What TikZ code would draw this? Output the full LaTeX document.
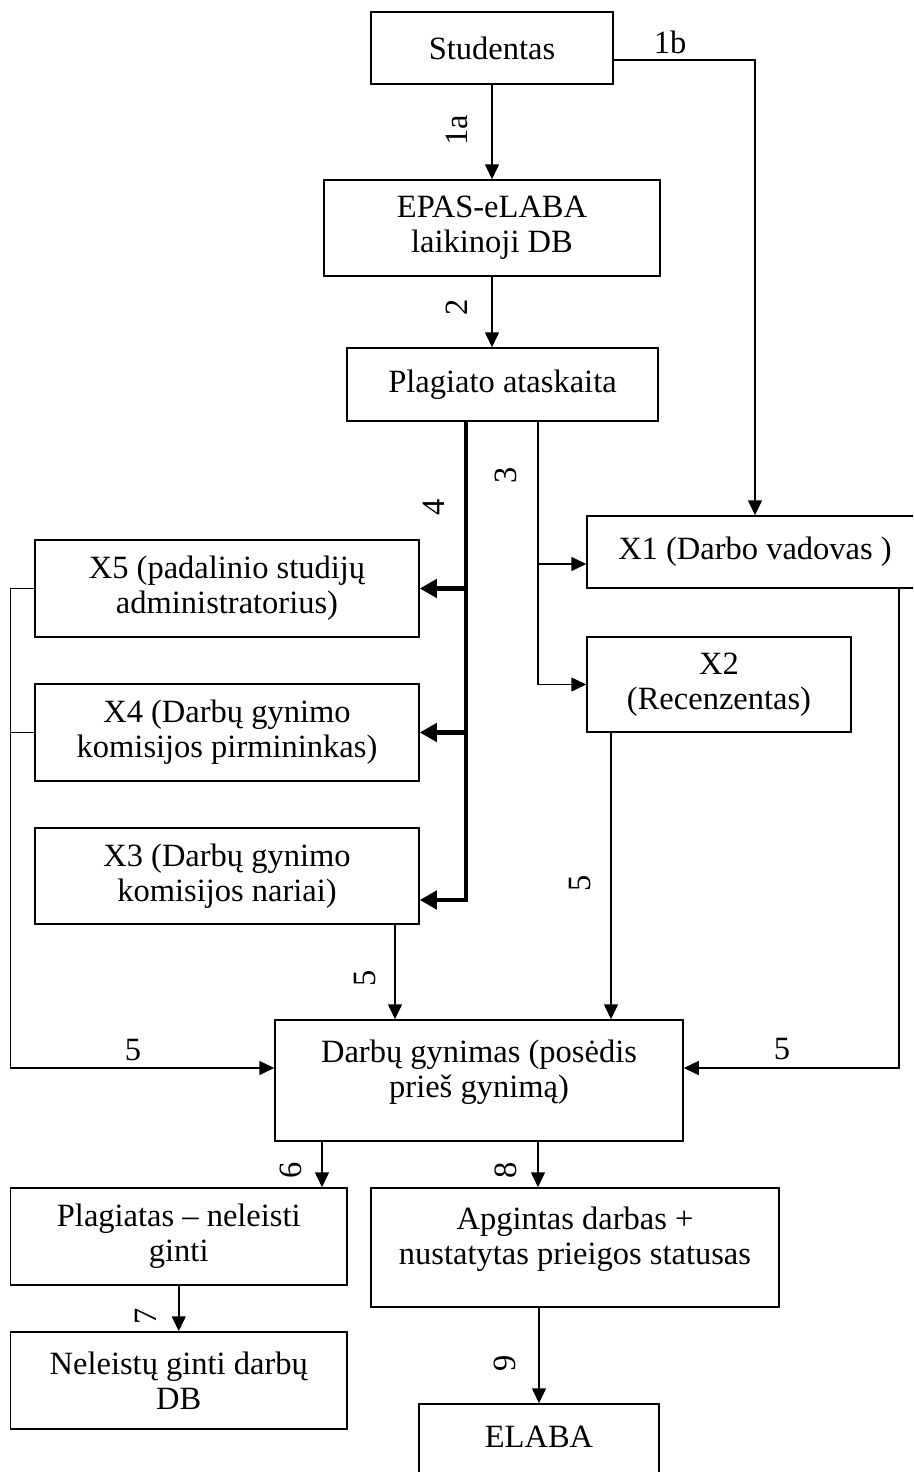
\documentclass[tikz,border=0pt]{standalone}
\usepackage{fontspec}
\setmainfont{Liberation Serif}
\usetikzlibrary{arrows.meta}
\begin{document}
\begin{tikzpicture}[x=1pt,y=-1pt,
  box/.style={draw, line width=1.5pt, align=center, inner sep=0pt, font=\fontsize{32.5}{35}\selectfont},
  txt/.style={align=center, inner sep=0pt, font=\fontsize{32.5}{35}\selectfont},
  num/.style={inner sep=0pt, font=\fontsize{32.5}{35}\selectfont},
  rnum/.style={num, rotate=90},
  ln/.style={line width=1.5pt},
  arr/.style={line width=1.5pt, -{Triangle[length=15pt,width=14pt]}},
  tarr/.style={line width=4.5pt, -{Triangle[length=17pt,width=18pt]}}
]
\clip (0,0) rectangle (913,1472);
\fill[white] (0,0) rectangle (913,1472);

% boxes
\node[box, minimum width=242pt, minimum height=72pt] (stu) at (492,48) {Studentas};
\node[box, minimum width=336pt, minimum height=96pt] (epas) at (492,228) {EPAS-eLABA\\laikinoji DB};
\node[box, minimum width=311pt, minimum height=73pt] (plag) at (502.5,384.5) {Plagiato ataskaita};
\node[box, minimum width=336pt, minimum height=72pt] (x1) at (755,552) {X1 (Darbo vadovas )};
\node[box, minimum width=264pt, minimum height=95pt] (x2) at (719,684.5) {X2\\(Recenzentas)};
\node[box, minimum width=384pt, minimum height=97pt] (x5) at (227,588.5) {X5 (padalinio studijų\\administratorius)};
\node[box, minimum width=384pt, minimum height=97pt] (x4) at (227,732.5) {X4 (Darbų gynimo\\komisijos pirmininkas)};
\node[box, minimum width=384pt, minimum height=96pt] (x3) at (227,876) {X3 (Darbų gynimo\\komisijos nariai)};
\node[box, minimum width=408pt, minimum height=121pt] (dg) at (479,1080.5) {};
\node[txt] (dgt) at (479,1072) {Darbų gynimas (posėdis\\prieš gynimą)};
\node[box, minimum width=336.5pt, minimum height=97pt] (pn) at (178.75,1236.5) {Plagiatas – neleisti\\ginti};
\node[box, minimum width=408pt, minimum height=119pt] (ap) at (575,1247.5) {};
\node[txt] (apt) at (575,1239) {Apgintas darbas +\\nustatytas prieigos statusas};
\node[box, minimum width=336.5pt, minimum height=97pt] (nd) at (178.75,1380.5) {Neleistų ginti darbų\\DB};
\node[box, minimum width=240pt, minimum height=96pt] (el) at (539,1452) {};
\node[txt] (elt) at (539,1437) {ELABA};

% helper coordinates
\coordinate (p3) at ([xshift=35.5pt]plag.south);
\coordinate (p4) at ([xshift=-36.5pt]plag.south);
\coordinate (x1in) at ([yshift=-12pt]x1.west);
\coordinate (x3in) at ([yshift=-24pt]x3.east);
\coordinate (lx) at (10.5,0);
\coordinate (rx) at (899,0);
\coordinate (dgl) at ([yshift=12.5pt]dg.west);
\coordinate (dgr) at ([yshift=12.5pt]dg.east);
\coordinate (x2o) at ([xshift=-108pt]x2.south);
\coordinate (x3o) at ([xshift=168pt]x3.south);
\coordinate (d6) at ([xshift=-157pt]dg.south);
\coordinate (d8) at ([xshift=59pt]dg.south);

% connectors
\draw[arr] (stu) -- (epas);
\draw[arr] (epas.south) -- (epas.south |- plag.north);
\draw[arr] ([yshift=-12pt]stu.east) -| (x1.north);
\draw[arr] (p3) |- (x2.west);
\draw[arr] (p3 |- x1in) -- (x1in);
\draw[tarr] (p4) |- (x3in);
\draw[tarr] (p4 |- x5.east) -- (x5.east);
\draw[tarr] (p4 |- x4.east) -- (x4.east);
\draw[arr] (x5.west) -- (x5.west -| lx) |- (dgl);
\draw[ln] (x4.west) -- (x4.west -| lx);
\draw[arr] (x1.south -| rx) |- (dgr);
\draw[arr] (x2o) -- (x2o |- dg.north);
\draw[arr] (x3o) -- (x3o |- dg.north);
\draw[arr] (d6) -- (d6 |- pn.north);
\draw[arr] (d8) -- (d8 |- ap.north);
\draw[arr] (pn) -- (nd);
\draw[arr] (ap.south -| el.north) -- (el.north);

% labels
\node[num] (l1b) at (670,42) {1b};
\node[rnum] (l1a) at (457,130) {1a};
\node[rnum] (l2) at (457,307) {2};
\node[rnum] (l3) at (506,475) {3};
\node[rnum] (l4) at (434,507) {4};
\node[rnum] (l5a) at (580,883) {5};
\node[rnum] (l5b) at (365,978) {5};
\node[num] (l5c) at (133,1050) {5};
\node[num] (l5d) at (782,1049) {5};
\node[rnum] (l6) at (291,1170) {6};
\node[rnum] (l8) at (506,1170) {8};
\node[rnum] (l7) at (145.5,1316) {7};
\node[rnum] (l9) at (505,1363) {9};
\end{tikzpicture}
\end{document}
